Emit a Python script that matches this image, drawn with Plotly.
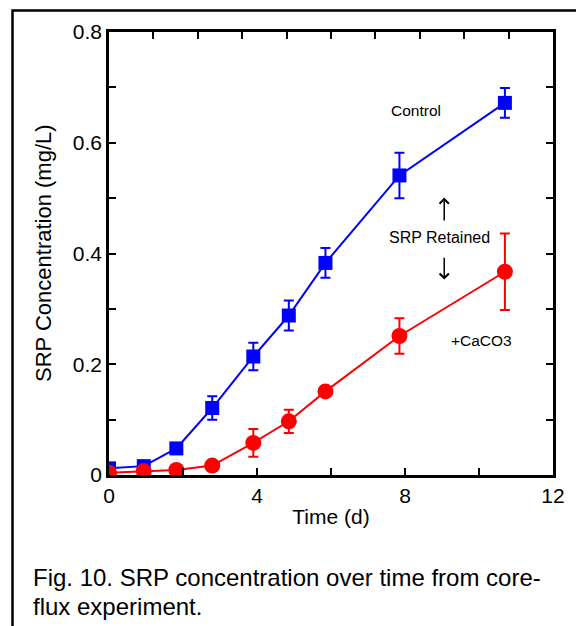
import plotly.graph_objects as go

# ---- data ----
days = [0, 0.94, 1.82, 2.79, 3.9, 4.86, 5.85, 7.85, 10.7]
control = [0.012, 0.016, 0.048, 0.121, 0.214, 0.288, 0.383, 0.541, 0.672]
control_err = [0.005, 0.005, 0.01, 0.021, 0.025, 0.027, 0.027, 0.041, 0.027]
caco3 = [0.004, 0.007, 0.009, 0.017, 0.058, 0.097, 0.151, 0.251, 0.367]
caco3_err = [0.003, 0.004, 0.006, 0.008, 0.025, 0.021, 0.008, 0.032, 0.069]

x_tickvals = [0, 2, 4, 6, 8, 10, 12]
x_ticktext = ["0", "", "4", "", "8", "", "12"]
y_tickvals = [0, 0.1, 0.2, 0.3, 0.4, 0.5, 0.6, 0.7, 0.8]
y_ticktext = ["0", "", "0.2", "", "0.4", "", "0.6", "", "0.8"]
top_ticks = list(range(0, 11))

FONT = "Liberation Sans, Arial, sans-serif"
W, H = 576, 626
L, R, T, B = 109, 23, 32, 151
pw, ph = W - L - R, H - T - B


def px_x(p):
    return (p - L) / pw


def px_y(p):
    return (H - B - p) / ph


fig = go.Figure()

fig.add_trace(go.Scatter(
    x=days, y=control, mode="lines+markers",
    line=dict(color="#0000ff", width=2),
    marker=dict(symbol="square", size=14, color="#0000ff"),
    error_y=dict(type="data", array=control_err, color="#0000ff", thickness=2, width=5),
    showlegend=False,
))
fig.add_trace(go.Scatter(
    x=days, y=caco3, mode="lines+markers",
    line=dict(color="#ff0000", width=2),
    marker=dict(symbol="circle", size=16, color="#ff0000"),
    error_y=dict(type="data", array=caco3_err, color="#ff0000", thickness=2, width=5),
    showlegend=False,
))
# invisible trace to anchor the top axis
fig.add_trace(go.Scatter(x=[0, 10], y=[0, 0], xaxis="x2", yaxis="y",
                         mode="markers", marker=dict(opacity=0),
                         hoverinfo="skip", showlegend=False))

axis_common = dict(showgrid=False, zeroline=False, showline=True,
                   linecolor="black", linewidth=2.5, ticks="inside",
                   ticklen=7, tickwidth=2, tickcolor="black",
                   tickfont=dict(family=FONT, size=21, color="black"))

fig.update_layout(
    width=W, height=H,
    margin=dict(l=L, r=R, t=T, b=B),
    paper_bgcolor="white", plot_bgcolor="white",
    font=dict(family=FONT, color="black"),
    xaxis=dict(range=[0, 12], tickmode="array", tickvals=x_tickvals,
               ticktext=x_ticktext, mirror=True,
               title=dict(text="Time (d)", font=dict(family=FONT, size=21), standoff=4),
               **axis_common),
    xaxis2=dict(range=[0, 10], overlaying="x", side="top", tickmode="array",
                tickvals=top_ticks, showticklabels=False, showgrid=False,
                zeroline=False, showline=False, ticks="inside", ticklen=7,
                tickwidth=2, tickcolor="black"),
    yaxis=dict(range=[0, 0.8], tickmode="array", tickvals=y_tickvals,
               ticktext=y_ticktext, mirror="ticks", **axis_common),
)

# y-axis title
fig.add_annotation(xref="paper", yref="paper", x=px_x(43), y=px_y(253),
                   xanchor="center", yanchor="middle", textangle=-90,
                   showarrow=False, text="SRP Concentration (mg/L)",
                   font=dict(family=FONT, size=22, color="black"))

# annotations inside plot
fig.add_annotation(x=8.31, y=0.658, text="Control", showarrow=False,
                   font=dict(family=FONT, size=15.5, color="black"))
fig.add_annotation(x=8.92, y=0.429, text="SRP Retained", showarrow=False,
                   font=dict(family=FONT, size=16, color="black"))
fig.add_annotation(x=10.06, y=0.243, text="+CaCO3", showarrow=False,
                   font=dict(family=FONT, size=15.5, color="black"))
fig.add_annotation(x=9.06, y=0.501, ax=9.06, ay=0.457, axref="x", ayref="y",
                   text="", showarrow=True, arrowhead=4, arrowsize=1.2,
                   arrowwidth=1.5, arrowcolor="black")
fig.add_annotation(x=9.06, y=0.353, ax=9.06, ay=0.395, axref="x", ayref="y",
                   text="", showarrow=True, arrowhead=4, arrowsize=1.2,
                   arrowwidth=1.5, arrowcolor="black")

# caption
fig.add_annotation(xref="paper", yref="paper", x=px_x(31), y=px_y(577),
                   xanchor="left", yanchor="middle", showarrow=False,
                   text="Fig. 10. SRP concentration over time from core-",
                   font=dict(family=FONT, size=24, color="black"))
fig.add_annotation(xref="paper", yref="paper", x=px_x(31), y=px_y(606),
                   xanchor="left", yanchor="middle", showarrow=False,
                   text="flux experiment.",
                   font=dict(family=FONT, size=24, color="black"))

# outer frame (extends beyond right and bottom edges)
fig.add_shape(type="rect", xref="paper", yref="paper",
              x0=px_x(12.5), x1=px_x(W + 20), y0=px_y(H + 20), y1=px_y(10.5),
              line=dict(color="black", width=2.5), fillcolor="rgba(0,0,0,0)",
              layer="above")

fig.write_html("out.html")
